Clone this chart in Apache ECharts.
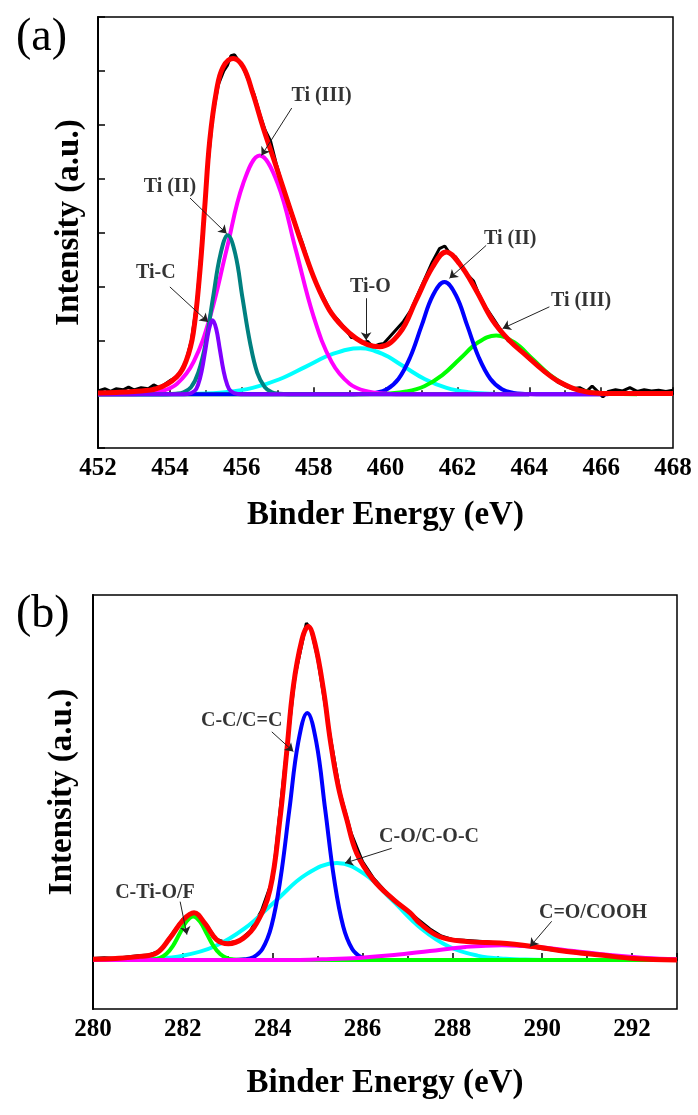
<!DOCTYPE html>
<html>
<head>
<meta charset="utf-8">
<script src="https://cdn.jsdelivr.net/npm/echarts@6/dist/echarts.min.js"></script>
<style>
html,body{margin:0;padding:0;background:#fff;}
#chart{width:698px;height:1115px;}
</style>
</head>
<body>
<div id="chart"></div>
<script>
// ---------------- Panel (a): Ti 2p ----------------
const xRangeA = [452, 468];
const rawA = [[452.0,0.06],[452.2,0.1],[452.35,0.05],[452.5,0.1],[452.7,0.08],[452.85,0.13],[453.0,0.08],[453.2,0.12],[453.4,0.1],[453.55,0.17],[453.7,0.12],[453.85,0.18],[454.0,0.25],[454.15,0.3],[454.3,0.42],[454.45,0.62],[454.6,1.0],[454.75,1.7],[454.9,2.9],[455.05,4.2],[455.2,5.2],[455.35,5.75],[455.5,6.0],[455.6,6.1],[455.7,6.28],[455.8,6.3],[455.9,6.2],[456.05,6.05],[456.2,5.8],[456.35,5.55],[456.5,5.2],[456.65,4.9],[456.8,4.7],[456.95,4.3],[457.1,3.95],[457.3,3.55],[457.5,3.15],[457.7,2.78],[457.9,2.35],[458.1,2.02],[458.3,1.76],[458.5,1.5],[458.7,1.36],[458.9,1.2],[459.05,1.05],[459.2,1.04],[459.35,0.95],[459.5,0.98],[459.65,0.88],[459.8,0.92],[459.95,0.94],[460.1,1.05],[460.3,1.2],[460.5,1.35],[460.7,1.55],[460.9,1.85],[461.1,2.15],[461.3,2.45],[461.5,2.7],[461.65,2.75],[461.8,2.6],[461.95,2.55],[462.1,2.4],[462.3,2.2],[462.45,2.1],[462.6,1.85],[462.8,1.6],[463.0,1.4],[463.2,1.2],[463.4,1.0],[463.6,0.9],[463.8,0.8],[464.0,0.65],[464.2,0.55],[464.4,0.42],[464.6,0.33],[464.8,0.22],[465.0,0.15],[465.2,0.1],[465.4,0.12],[465.6,0.05],[465.75,0.15],[465.9,0.05],[466.05,-0.05],[466.2,0.05],[466.4,0.08],[466.6,0.06],[466.8,0.12],[467.0,0.05],[467.2,0.08],[467.4,0.06],[467.6,0.07],[467.8,0.05],[468.0,0.07]];
const envelopeA = [[452.0,0.02],[452.5,0.03],[453.0,0.05],[453.63,0.1],[454.19,0.32],[454.46,0.63],[454.65,1.13],[454.83,2.24],[454.97,3.47],[455.11,4.71],[455.3,5.64],[455.48,6.07],[455.76,6.23],[456.04,6.07],[456.31,5.58],[456.59,4.96],[456.96,4.22],[457.33,3.47],[457.7,2.73],[458.07,2.06],[458.44,1.56],[458.81,1.25],[459.19,1.03],[459.5,0.92],[459.83,0.88],[460.39,1.13],[460.85,1.74],[461.31,2.36],[461.69,2.64],[462.06,2.42],[462.52,1.93],[462.98,1.37],[463.44,1.0],[463.91,0.72],[464.37,0.45],[464.83,0.23],[465.39,0.07],[466.03,0.01],[468.0,0.01]];
const tiC_A = [[452,0],[454.3,0],[454.49,0.003],[454.69,0.06],[454.79,0.185],[454.89,0.445],[454.99,0.831],[455.09,1.209],[455.19,1.37],[455.29,1.209],[455.39,0.831],[455.49,0.445],[455.59,0.185],[455.69,0.06],[455.89,0.003],[456.1,0],[466.2,0]];
const tiII_A = [[452,0],[453.9,0],[454.17,0.007],[454.38,0.033],[454.59,0.13],[454.79,0.399],[455.0,0.958],[455.2,1.789],[455.41,2.603],[455.61,2.95],[455.82,2.603],[456.02,1.789],[456.23,0.958],[456.43,0.399],[456.64,0.13],[456.84,0.033],[457.05,0.007],[457.3,0],[464,0]];
const tiIII_A = [[452,0],[453.0,0],[453.28,0.01],[453.74,0.049],[454.2,0.194],[454.66,0.599],[455.12,1.438],[455.58,2.687],[456.04,3.91],[456.5,4.43],[457.0,3.91],[457.5,2.687],[458.0,1.438],[458.5,0.599],[459.0,0.194],[459.5,0.049],[460.0,0.01],[460.3,0],[464,0]];
const tiO_A = [[452,0],[453.3,0],[454.8,0.009],[455.55,0.037],[456.3,0.115],[457.05,0.276],[457.8,0.516],[458.55,0.75],[459.3,0.85],[459.9,0.75],[460.5,0.516],[461.1,0.276],[461.7,0.115],[462.3,0.037],[462.9,0.009],[463.5,0],[464,0]];
const tiII2_A = [[452,0],[459.1,0],[459.4,0.0046],[459.72,0.023],[460.04,0.091],[460.36,0.281],[460.68,0.675],[461.0,1.262],[461.32,1.836],[461.64,2.08],[461.96,1.836],[462.28,1.262],[462.6,0.675],[462.92,0.281],[463.24,0.091],[463.56,0.023],[463.88,0.0046],[464.2,0],[466,0]];
const tiIII2_A = [[452,0],[459.3,0],[459.58,0.0024],[460.08,0.012],[460.58,0.048],[461.08,0.147],[461.58,0.354],[462.08,0.661],[462.58,0.962],[463.08,1.09],[463.58,0.962],[464.08,0.661],[464.58,0.354],[465.08,0.147],[465.58,0.048],[466.08,0.012],[466.58,0.0024],[467,0]];
// annotation texts and anchor points (data coordinates)
const labelsA = [['Ti (III)',458.22,5.53],['Ti (II)',454.0,3.84],['Ti-C',453.61,2.26],['Ti-O',459.58,1.99],['Ti (II)',463.47,2.88],['Ti (III)',465.44,1.74]];
const arrowsA = [[[457.39,5.31],[456.55,4.43]],[[454.56,3.64],[455.58,2.98]],[[454.0,1.99],[455.06,1.34]],[[459.46,1.78],[459.46,1.0]],[[462.8,2.76],[461.78,2.15]],[[464.56,1.62],[463.26,1.22]]];

// ---------------- Panel (b): C 1s ----------------
const xRangeB = [280, 293];
const rawB = [[280.0,0.02],[280.25,0.03],[280.5,0.02],[280.75,0.04],[281.0,0.06],[281.25,0.07],[281.5,0.13],[281.75,0.36],[282.0,0.58],[282.25,0.68],[282.5,0.52],[282.75,0.29],[283.0,0.24],[283.25,0.27],[283.5,0.41],[283.75,0.7],[284.0,1.15],[284.25,2.65],[284.5,4.05],[284.75,4.8],[284.85,4.72],[285.0,4.3],[285.25,3.3],[285.5,2.38],[285.75,1.8],[286.0,1.4],[286.25,1.16],[286.5,0.98],[286.75,0.83],[287.0,0.7],[287.25,0.57],[287.5,0.44],[287.75,0.34],[288.0,0.29],[288.25,0.28],[288.5,0.27],[288.75,0.26],[289.0,0.24],[289.25,0.23],[289.5,0.2],[289.75,0.19],[290.0,0.16],[290.25,0.14],[290.5,0.12],[290.75,0.1],[291.0,0.09],[291.25,0.08],[291.5,0.06],[291.75,0.05],[292.0,0.04],[292.25,0.02],[292.5,0.02],[292.75,0.01],[293,0.01]];
const envelopeB = [[280.0,0.01],[280.5,0.02],[281.05,0.05],[281.42,0.1],[281.71,0.31],[282.01,0.57],[282.25,0.67],[282.49,0.52],[282.75,0.29],[283.01,0.23],[283.35,0.31],[283.64,0.52],[283.94,1.0],[284.16,2.0],[284.31,2.95],[284.46,3.9],[284.65,4.56],[284.79,4.75],[284.94,4.51],[285.13,3.85],[285.28,3.14],[285.46,2.47],[285.65,2.0],[285.87,1.52],[286.24,1.14],[286.69,0.86],[287.06,0.67],[287.28,0.52],[287.72,0.33],[288.32,0.26],[289.06,0.24],[289.8,0.19],[290.55,0.12],[291.29,0.07],[292.03,0.02],[293.0,0.0]];
const cTiOF_B = [[280,0],[281.0,0],[281.18,0.0014],[281.33,0.007],[281.48,0.027],[281.63,0.084],[281.78,0.201],[281.93,0.376],[282.08,0.547],[282.23,0.62],[282.38,0.547],[282.53,0.376],[282.68,0.201],[282.83,0.084],[282.98,0.027],[283.13,0.007],[283.28,0.0014],[283.5,0],[293,0]];
const cc_B = [[280,0],[283.1,0],[283.37,0.0077],[283.57,0.039],[283.77,0.155],[283.97,0.476],[284.17,1.143],[284.37,2.135],[284.57,3.106],[284.77,3.52],[284.97,3.106],[285.17,2.135],[285.37,1.143],[285.57,0.476],[285.77,0.155],[285.97,0.039],[286.17,0.0077],[286.5,0],[293,0]];
const co_B = [[280,0],[280.635,0.003],[281.32,0.015],[282.005,0.061],[282.69,0.187],[283.375,0.448],[284.06,0.837],[284.745,1.218],[285.43,1.38],[286.055,1.218],[286.68,0.837],[287.305,0.448],[287.93,0.187],[288.555,0.061],[289.18,0.015],[289.805,0.003],[290.4,0],[293,0]];
const cooh_B = [[280,0],[284.5,0],[285.1,0.009],[285.9,0.028],[286.7,0.068],[287.5,0.127],[288.3,0.185],[289.1,0.21],[289.9,0.185],[290.7,0.127],[291.5,0.068],[292.3,0.028],[293,0.01]];
const labelsB = [['C-Ti-O/F',281.38,0.95],['C-C/C=C',283.31,3.40],['C-O/C-O-C',287.48,1.76],['C=O/COOH',291.13,0.67]];
const arrowsB = [[[281.94,0.83],[282.09,0.36]],[[283.98,3.25],[284.46,2.97]],[[286.65,1.59],[285.61,1.38]],[[290.21,0.55],[289.73,0.19]]];

const FONT = '"Liberation Serif","Times New Roman",Times,serif';
const BLACK = '#000';

function lineSeries(data, color, width, xi, smooth) {
  return {
    type: 'line', data: data, xAxisIndex: xi, yAxisIndex: xi,
    showSymbol: false, symbol: 'none', smooth: smooth, silent: true,
    lineStyle: { color: color, width: width }, animation: false
  };
}
function annSeries(labels, arrows, xi) {
  return {
    type: 'scatter', xAxisIndex: xi, yAxisIndex: xi, symbolSize: 0, silent: true, animation: false,
    data: labels.map(l => [l[1], l[2], l[0]]),
    label: { show: true, position: 'inside', formatter: p => p.value[2],
      fontFamily: FONT, fontWeight: 'bold', fontSize: 20, color: '#000' },
    markLine: {
      silent: true, animation: false, symbol: ['none', 'arrow'], symbolSize: 8,
      lineStyle: { color: '#222', width: 1, type: 'solid' }, label: { show: false },
      emphasis: { disabled: true },
      data: arrows.map(a => [{ coord: a[0] }, { coord: a[1] }])
    }
  };
}

const axisName = { fontFamily: FONT, fontWeight: 'bold', fontSize: 33, color: BLACK };
const tickLabel = { fontFamily: FONT, fontWeight: 'bold', fontSize: 25, color: BLACK, margin: 8 };
const axLine = { show: true, lineStyle: { color: BLACK, width: 2 } };

const option = {
  backgroundColor: '#fff',
  animation: false,
  title: [
    { text: '(a)', left: 11, top: 10, textStyle: { fontFamily: FONT, fontSize: 46, fontWeight: 'normal', color: BLACK } },
    { text: '(b)', left: 11, top: 587, textStyle: { fontFamily: FONT, fontSize: 46, fontWeight: 'normal', color: BLACK } }
  ],
  grid: [
    { left: 98, top: 17, width: 575, height: 431, show: true, borderColor: BLACK, borderWidth: 1.5, backgroundColor: 'transparent' },
    { left: 93, top: 595, width: 584, height: 414, show: true, borderColor: BLACK, borderWidth: 1.5, backgroundColor: 'transparent' },
    { left: 93, top: 595, width: 584, height: 414, show: false }
  ],
  xAxis: [
    { gridIndex: 0, type: 'value', min: xRangeA[0], max: xRangeA[1], interval: 2,
      axisLine: axLine, axisTick: { inside: true, length: 7, lineStyle: { color: BLACK, width: 1.5 } },
      minorTick: { show: true, splitNumber: 2, length: 4, lineStyle: { color: BLACK, width: 1.5 } },
      splitLine: { show: false }, axisLabel: tickLabel,
      name: 'Binder Energy (eV)', nameLocation: 'middle', nameGap: 51, nameTextStyle: axisName },
    { gridIndex: 1, type: 'value', min: xRangeB[0], max: xRangeB[1], interval: 1,
      axisLine: axLine, axisTick: { inside: true, length: 4, lineStyle: { color: BLACK, width: 1.5 } },
      splitLine: { show: false },
      axisLabel: Object.assign({}, tickLabel, { formatter: v => (v % 2 === 0 && v < xRangeB[1]) ? String(v) : '' }),
      name: 'Binder Energy (eV)', nameLocation: 'middle', nameGap: 58, nameTextStyle: axisName },
    { gridIndex: 2, type: 'value', min: xRangeB[0], max: xRangeB[1], interval: 2,
      axisLine: { show: false }, axisTick: { inside: true, length: 7, lineStyle: { color: BLACK, width: 1.5 } },
      axisLabel: { show: false }, splitLine: { show: false } }
  ],
  yAxis: [
    { gridIndex: 0, type: 'value', min: -1, max: 7, interval: 1,
      axisLine: axLine, axisTick: { inside: true, length: 7, lineStyle: { color: BLACK, width: 1.5 } },
      axisLabel: { show: false }, splitLine: { show: false },
      name: 'Intensity (a.u.)', nameLocation: 'middle', nameGap: 12,
      nameTextStyle: Object.assign({}, axisName, { padding: [0, 0, 0, 20] }) },
    { gridIndex: 1, type: 'value', min: -0.7, max: 5.2,
      axisLine: axLine, axisTick: { show: false },
      axisLabel: { show: false }, splitLine: { show: false },
      name: 'Intensity (a.u.)', nameLocation: 'middle', nameGap: 14,
      nameTextStyle: Object.assign({}, axisName, { padding: [0, 0, 0, 20] }) },
    { gridIndex: 2, type: 'value', min: -0.7, max: 5.2, show: false }
  ],
  series: [
    lineSeries(rawA, BLACK, 3, 0, false),
    lineSeries(tiO_A, '#00FFFF', 4, 0, 0.4),
    lineSeries(tiIII2_A, '#00FF00', 4, 0, 0.4),
    lineSeries(tiII2_A, '#0000FF', 4, 0, 0.4),
    lineSeries(tiIII_A, '#FF00FF', 4, 0, 0.4),
    lineSeries(tiII_A, '#008080', 4, 0, 0.4),
    lineSeries(tiC_A, '#8000FF', 4, 0, 0.4),
    lineSeries(envelopeA, '#FF0000', 5, 0, 0.4),
    annSeries(labelsA, arrowsA, 0),

    lineSeries(rawB, BLACK, 3, 1, false),
    lineSeries(co_B, '#00FFFF', 4, 1, 0.4),
    lineSeries(cc_B, '#0000FF', 4, 1, 0.4),
    lineSeries(cTiOF_B, '#00FF00', 4, 1, 0.4),
    lineSeries(cooh_B, '#FF00FF', 4, 1, 0.4),
    lineSeries(envelopeB, '#FF0000', 5, 1, 0.4),
    annSeries(labelsB, arrowsB, 1)
  ]
};

const chart = echarts.init(document.getElementById('chart'), null, { renderer: 'canvas' });
chart.setOption(option);
</script>
</body>
</html>
